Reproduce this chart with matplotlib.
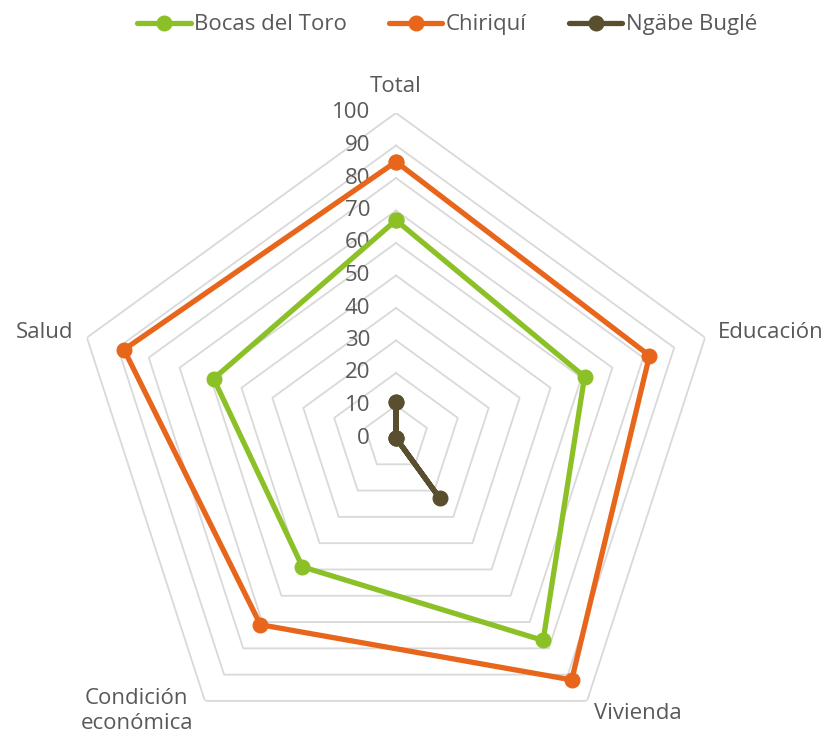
import numpy as np
import matplotlib
matplotlib.use("Agg")
import matplotlib.pyplot as plt

categories = ["Total", "Educación", "Vivienda", "Condición\neconómica", "Salud"]
series_names = ["Bocas del Toro", "Chiriquí", "Ngäbe Buglé"]
bocas = [67, 61, 77, 49, 59]
chiriqui = [85, 82, 92, 71, 88]
ngabe = [11, 0, 23, 0, 0]
radial_ticks = [0, 10, 20, 30, 40, 50, 60, 70, 80, 90, 100]

colors = ["#8CC027", "#E8661C", "#594F2F"]
text_color = "#595959"
plt.rcParams['font.family'] = ['Open Sans', 'DejaVu Sans']
FS = 16

W, H = 831, 737
fig = plt.figure(figsize=(W / 100, H / 100), dpi=100)
cx, cy, R = 396, 438, 325
ax = fig.add_axes([(cx - R) / W, (H - cy - R) / H, 2 * R / W, 2 * R / H], projection="polar")
ax.set_theta_offset(np.pi / 2)
ax.set_theta_direction(-1)
ax.set_ylim(0, 100)
ax.set_axis_off()

n = len(categories)
angles = np.linspace(0, 2 * np.pi, n, endpoint=False)
closed = np.concatenate([angles, angles[:1]])

# grid pentagons
for r in radial_ticks[1:]:
    ax.plot(closed, [r] * (n + 1), color="#D9D9D9", lw=1.3, zorder=1)

# radial labels
for r in radial_ticks:
    ax.annotate(str(r), xy=(0, r), xytext=(-26, 0), textcoords="offset pixels",
                ha="right", va="center", fontsize=FS, color=text_color, zorder=2)

# category labels
offsets = [(0, 16, "center", "bottom"), (13, 5, "left", "center"), (7, -13, "left", "center"),
           (-12, -10, "right", "center"), (-14, 5, "right", "center")]
for ang, lab, (dx, dy, ha, va) in zip(angles, categories, offsets):
    ax.annotate(lab, xy=(ang, 100), xytext=(dx, dy), textcoords="offset pixels",
                ha=ha, va=va, fontsize=FS, color=text_color, multialignment="center",
                linespacing=1.2)

for name, vals, c in zip(series_names, [bocas, chiriqui, ngabe], colors):
    v = list(vals) + [vals[0]]
    ax.plot(closed, v, color=c, lw=3.8, marker="o", markersize=10.5, label=name,
            zorder=3, solid_capstyle="round")

leg = fig.legend(loc="upper center", bbox_to_anchor=(0.538, 1.0), ncol=3, frameon=False,
                 fontsize=FS, handlelength=2.4, handletextpad=0.15, columnspacing=1.9,
                 borderaxespad=0.25)
for t in leg.get_texts():
    t.set_color(text_color)

fig.savefig("out.png", dpi=100)
